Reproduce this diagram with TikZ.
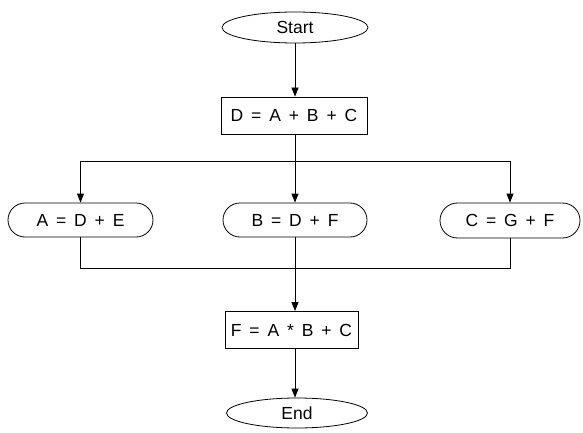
\documentclass[tikz,border=0pt]{standalone}
\usepackage{fontspec}
\setmainfont{Liberation Sans}
\usetikzlibrary{arrows.meta,shapes.geometric,shapes.misc}
\newcommand\flowfont{\fontsize{17.5}{20}\selectfont\spaceskip=0.45em\relax}
\tikzset{
  base/.style={draw=black, line width=0.8pt, inner sep=0pt, font=\flowfont},
  terminal/.style={base, ellipse},
  process/.style={base, rectangle},
  assign/.style={base, rounded rectangle},
  flow/.style={line width=0.8pt, draw=black},
  arr/.style={flow, -{Triangle[length=9pt,width=7pt]}},
}
\begin{document}
\begin{tikzpicture}[x=1pt, y=-1pt]
\useasboundingbox (0,0) rectangle (583,433);

% terminals and statements
\node[terminal, minimum width=146pt, minimum height=31pt] (start) at (295,27.5) {Start};
\node[process, minimum width=146pt, minimum height=37pt] (d) at (294,115.5) {D = A + B + C};
\node[assign, minimum width=145pt, minimum height=34pt] (a) at (80.5,220) {A = D + E};
\node[assign, minimum width=144pt, minimum height=34pt] (b) at (295,220) {B = D + F};
\node[assign, minimum width=140pt, minimum height=35pt] (c) at (510,220.5) {C = G + F};
\node[process, minimum width=133pt, minimum height=37pt] (f) at (291.5,330) {F = A * B + C};
\node[terminal, minimum width=141pt, minimum height=30pt] (end) at (297,413) {End};

% branch and join points
\coordinate (split) at (295,161);
\coordinate (join) at (295,268);

% connectors
\draw[arr] (start.south -| split) -- (split |- d.north);
\draw[flow] (split |- d.south) -- (split);
\draw[arr] (split) -| (a.north);
\draw[arr] (split) -- (split |- b.north);
\draw[arr] (split) -| (c.north);
\draw[flow] (a.south) |- (join);
\draw[flow] (c.south) |- (join);
\draw[arr] (split |- b.south) -- (split |- f.north);
\draw[arr] (split |- f.south) -- (split |- end.north);
\end{tikzpicture}
\end{document}
